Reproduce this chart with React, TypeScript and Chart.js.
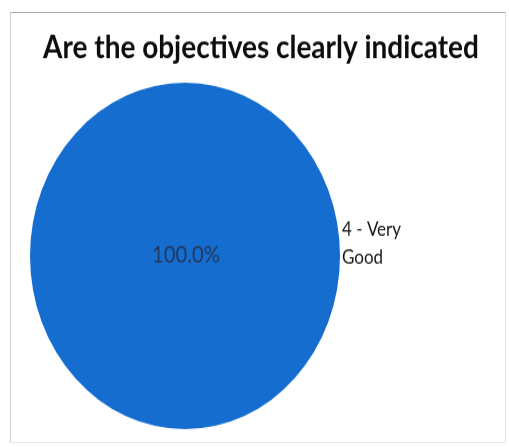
import { useEffect, useRef } from 'react';
import { Chart, registerables } from 'chart.js';

Chart.register(...registerables);

const TITLE = 'Are the objectives clearly indicated';
const categories = ['4 - Very Good'];
const values = [100];
const sliceColors = ['#166dd0'];

const W = 509;
const H = 447;
const CH = 400;
const SY = H / CH;

function wrap(ctx: CanvasRenderingContext2D, text: string, maxW: number): string[] {
  const words = text.split(' ');
  const lines: string[] = [];
  let cur = '';
  for (const w of words) {
    const t = cur ? cur + ' ' + w : w;
    if (ctx.measureText(t).width > maxW && cur) {
      lines.push(cur);
      cur = w;
    } else cur = t;
  }
  if (cur) lines.push(cur);
  return lines;
}

export default function App() {
  const ref = useRef<HTMLCanvasElement>(null);
  useEffect(() => {
    const canvas = ref.current!;
    const textPlugin = {
      id: 'texts',
      afterDraw(chart: any) {
        const ctx: CanvasRenderingContext2D = chart.ctx;
        ctx.save();
        // title
        ctx.font = 'bold 30px Lato';
        const tw = ctx.measureText(TITLE).width;
        const ts = (30 * 436) / tw;
        ctx.font = `bold ${ts}px Lato`;
        ctx.fillStyle = '#0d0d0d';
        ctx.textAlign = 'center';
        ctx.textBaseline = 'alphabetic';
        ctx.fillText(TITLE, 261, 51.5);

        const meta = chart.getDatasetMeta(0);
        const total = values.reduce((a, b) => a + b, 0);
        meta.data.forEach((arc: any, i: number) => {
          const pct = ((values[i] / total) * 100).toFixed(1) + '%';
          ctx.font = '20px Lato';
          const pw = ctx.measureText(pct).width;
          ctx.font = `${(20 * 68) / pw}px Lato`;
          ctx.fillStyle = '#23395d';
          ctx.textAlign = 'center';
          ctx.textBaseline = 'middle';
          ctx.fillText(pct, arc.x + 1, arc.y - 1);

          ctx.font = '17px Lato';
          ctx.fillStyle = '#141414';
          ctx.textAlign = 'left';
          ctx.textBaseline = 'alphabetic';
          const lines = wrap(ctx, categories[i], 62);
          const lx = arc.x + arc.outerRadius + 2;
          lines.forEach((ln, k) => {
            ctx.fillText(ln, lx, arc.y - 17.6 + k * 24.2);
          });
        });
        ctx.restore();
      },
    };
    const chart = new Chart(canvas, {
      type: 'pie',
      data: {
        labels: categories,
        datasets: [{ data: values, backgroundColor: sliceColors, borderWidth: 0 }],
      },
      options: {
        responsive: false,
        animation: false,
        layout: { padding: { left: 30, right: 169, top: 74, bottom: 16 } },
        plugins: {
          legend: { display: false },
          tooltip: { enabled: false },
          title: { display: false },
        },
      },
      plugins: [textPlugin],
    });
    return () => chart.destroy();
  }, []);
  return (
    <div style={{ position: 'fixed', left: 0, top: 0, width: W, height: H, background: '#fff', overflow: 'hidden' }}>
      <div
        style={{
          position: 'absolute',
          left: 10,
          top: 12,
          width: 496,
          height: 431,
          borderTop: '1px solid #a8a8a8',
          borderLeft: '1px solid #cfcfcf',
          borderRight: '1px solid #dedede',
          borderBottom: '1px solid #e6e6e6',
          boxSizing: 'border-box',
        }}
      />
      <canvas
        ref={ref}
        width={W}
        height={CH}
        style={{ position: 'absolute', left: 0, top: 0, transform: `scaleY(${SY})`, transformOrigin: '0 0' }}
      />
    </div>
  );
}
